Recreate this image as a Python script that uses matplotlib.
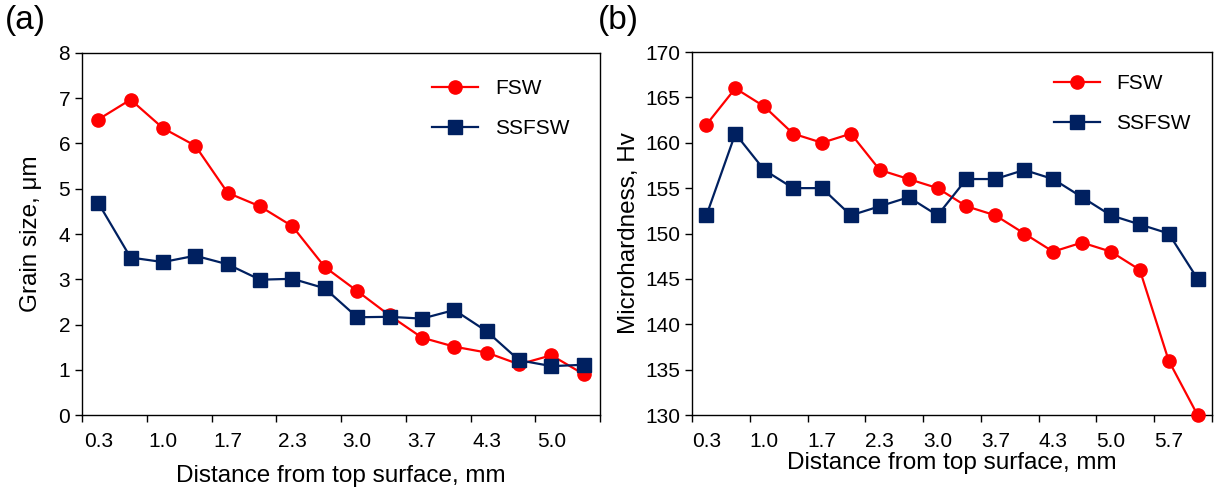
import matplotlib.pyplot as plt
import numpy as np

plt.rcParams['font.family'] = ['Liberation Sans', 'DejaVu Sans']

# distance categories (mm)
dist_a = ['0.3', '0.7', '1.0', '1.3', '1.7', '2.0', '2.3', '2.7', '3.0', '3.3',
          '3.7', '4.0', '4.3', '4.7', '5.0', '5.3']
dist_b = dist_a + ['5.7', '6.0']

# grain size, um
grain_fsw = [6.53, 6.97, 6.34, 5.95, 4.91, 4.61, 4.17, 3.27, 2.74, 2.20,
             1.71, 1.51, 1.38, 1.12, 1.32, 0.90]
grain_ssfsw = [4.69, 3.48, 3.38, 3.52, 3.33, 2.99, 3.01, 2.80, 2.16, 2.17,
               2.13, 2.32, 1.85, 1.21, 1.08, 1.11]

# microhardness, Hv
hv_fsw = [162, 166, 164, 161, 160, 161, 157, 156, 155, 153, 152, 150, 148,
          149, 148, 146, 136, 130]
hv_ssfsw = [152, 161, 157, 155, 155, 152, 153, 154, 152, 156, 156, 157, 156,
            154, 152, 151, 150, 145]

red = '#ff0000'
navy = '#002060'

fig = plt.figure(figsize=(12.15, 4.9), dpi=100)
ax1 = fig.add_axes([82/1215, 75/490, 518/1215, 362/490])
ax2 = fig.add_axes([692/1215, 75/490, 520/1215, 363/490])


def draw(ax, cats, fsw, ssfsw, ylim, yticks, ylabel, leg_anchor):
    n = len(cats)
    x = np.arange(n) + 0.5
    ax.plot(x, fsw, color=red, lw=1.6, marker='o', ms=9.5, label='FSW', clip_on=False, zorder=3)
    ax.plot(x, ssfsw, color=navy, lw=1.6, marker='s', ms=9.5, label='SSFSW', clip_on=False, zorder=4)
    ax.set_xlim(0, n)
    ax.set_ylim(*ylim)
    ax.set_yticks(yticks)
    ax.set_xticks(np.arange(0, n + 1, 2))
    ax.set_xticklabels([])
    ax.set_xticks(x[::2], minor=True)
    ax.set_xticklabels(cats[::2], minor=True)
    ax.tick_params(axis='x', which='major', direction='out', length=5, width=1)
    ax.tick_params(axis='x', which='minor', length=0, labelsize=15, pad=12)
    ax.tick_params(axis='y', direction='out', length=5, width=1, labelsize=15)
    for s in ax.spines.values():
        s.set_linewidth(1)
    ax.set_xlabel('Distance from top surface, mm', fontsize=17.5)
    ax.set_ylabel(ylabel, fontsize=17.5)
    ax.legend(loc='upper left', bbox_to_anchor=leg_anchor, frameon=False, fontsize=15,
              handlelength=2.2, labelspacing=1.0, handletextpad=0.8)


draw(ax1, dist_a, grain_fsw, grain_ssfsw, (0, 8), range(0, 9), 'Grain size, \u03bcm', (0.64, 0.98))
draw(ax2, dist_b, hv_fsw, hv_ssfsw, (130, 170), range(130, 171, 5), 'Microhardness, Hv', (0.66, 0.99))
ax1.xaxis.labelpad = 10
ax2.xaxis.labelpad = 1
ax1.yaxis.labelpad = 12

fig.text(5/1215, 1 - 5/490, '(a)', fontsize=24, va='top', ha='left')
fig.text(598/1215, 1 - 5/490, '(b)', fontsize=24, va='top', ha='left')

fig.savefig('out.png', dpi=100)
